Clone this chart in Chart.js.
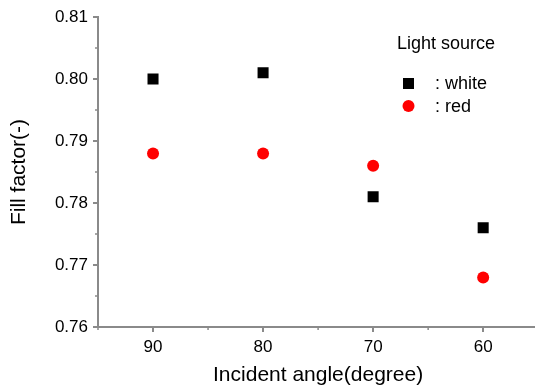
<!DOCTYPE html>
<html>
<head>
<meta charset="utf-8">
<script src="https://cdn.jsdelivr.net/npm/chart.js@4/dist/chart.umd.min.js"></script>
<style>
  html, body { margin: 0; padding: 0; background: #fff; overflow: hidden; }
  #wrap { width: 546px; height: 387px; }
</style>
</head>
<body>
<div id="wrap"><canvas id="c" width="546" height="387"></canvas></div>
<script>
// datos
const angles = [90, 80, 70, 60];
const whiteFF = [0.800, 0.801, 0.781, 0.776];
const redFF = [0.788, 0.788, 0.786, 0.768];
const xTicks = [90, 80, 70, 60];
const yTicks = [0.76, 0.77, 0.78, 0.79, 0.80, 0.81];
const legendTitle = "Light source";
const seriesNames = [": white", ": red"];

const FONT = "'Liberation Sans', Arial, sans-serif";
const AXIS = "#8a8a8a";

// ticks menores y leyenda dibujados a mano
const extras = {
  id: "extras",
  afterDraw(chart) {
    const ctx = chart.ctx;
    const xs = chart.scales.x, ys = chart.scales.y;
    ctx.save();
    ctx.strokeStyle = AXIS;
    ctx.lineWidth = 1.5;
    for (let i = 0; i < xTicks.length; i++) {
      const v = xTicks[i] + 5;
      const px = xs.getPixelForValue(v);
      ctx.beginPath(); ctx.moveTo(px, xs.top); ctx.lineTo(px, xs.top + 3); ctx.stroke();
    }
    for (let i = 0; i < yTicks.length - 1; i++) {
      const v = yTicks[i] + 0.005;
      const py = ys.getPixelForValue(v);
      ctx.beginPath(); ctx.moveTo(ys.right, py); ctx.lineTo(ys.right - 3, py); ctx.stroke();
    }
    // leyenda
    ctx.fillStyle = "#000";
    ctx.font = "18px " + FONT;
    ctx.textBaseline = "middle";
    ctx.textAlign = "left";
    ctx.fillText(legendTitle, 397, 44);
    ctx.fillRect(403, 78, 11, 11);
    ctx.fillText(seriesNames[0], 435, 84);
    ctx.fillStyle = "#ff0000";
    ctx.beginPath(); ctx.arc(408.5, 106, 6, 0, Math.PI * 2); ctx.fill();
    ctx.fillStyle = "#000";
    ctx.fillText(seriesNames[1], 435, 107);
    ctx.restore();
  }
};

new Chart(document.getElementById("c"), {
  type: "scatter",
  data: {
    datasets: [
      {
        label: seriesNames[0],
        data: angles.map((a, i) => ({ x: a, y: whiteFF[i] })),
        pointStyle: "rect",
        pointRadius: 7.8,
        pointHoverRadius: 7.8,
        backgroundColor: "#000",
        borderWidth: 0,
      },
      {
        label: seriesNames[1],
        data: angles.map((a, i) => ({ x: a, y: redFF[i] })),
        pointStyle: "circle",
        pointRadius: 6,
        pointHoverRadius: 6,
        backgroundColor: "#ff0000",
        borderWidth: 0,
      },
    ],
  },
  options: {
    responsive: false,
    animation: false,
    layout: { padding: { top: 17, right: 0, left: 0, bottom: 0 } },
    plugins: { legend: { display: false }, tooltip: { enabled: false } },
    scales: {
      x: {
        type: "linear",
        reverse: true,
        min: 55,
        max: 95,
        afterBuildTicks: (s) => { s.ticks = xTicks.map((v) => ({ value: v })); },
        afterFit: (s) => { s.height = 60; },
        grid: { display: true, drawOnChartArea: false, drawTicks: true, tickLength: 5, color: AXIS, lineWidth: 2 },
        border: { display: true, color: AXIS, width: 2 },
        ticks: { color: "#000", font: { family: FONT, size: 17 }, padding: 5, maxRotation: 0 },
        title: { display: true, text: "Incident angle(degree)", color: "#000", font: { family: FONT, size: 21 }, padding: { top: 0, bottom: -1 } },
      },
      y: {
        min: 0.76,
        max: 0.81,
        afterBuildTicks: (s) => { s.ticks = yTicks.map((v) => ({ value: v })); },
        afterFit: (s) => { s.width = 98; },
        grid: { display: true, drawOnChartArea: false, drawTicks: true, tickLength: 5, color: AXIS, lineWidth: 2 },
        border: { display: true, color: AXIS, width: 2 },
        ticks: { color: "#000", font: { family: FONT, size: 17 }, padding: 5, callback: (v) => v.toFixed(2) },
        title: { display: true, text: "Fill factor(-)", color: "#000", font: { family: FONT, size: 21 }, padding: { top: 7, bottom: 0 } },
      },
    },
  },
  plugins: [extras],
});
</script>
</body>
</html>
